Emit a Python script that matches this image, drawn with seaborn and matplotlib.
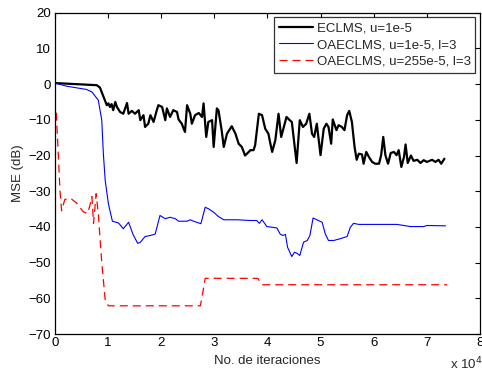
import matplotlib
matplotlib.use("Agg")
import matplotlib.pyplot as plt
import seaborn as sns
import pandas as pd

# x in units of 10^4 iterations, y in dB
x_eclms = [0, 0.79, 0.85, 0.92, 0.98, 1.01, 1.04, 1.07, 1.10, 1.14, 1.17, 1.23, 1.29, 1.36, 1.39,
           1.45, 1.51, 1.58, 1.61, 1.67, 1.70, 1.76, 1.80, 1.86, 1.92, 1.95, 2.02, 2.08, 2.11, 2.17,
           2.23, 2.30, 2.33, 2.39, 2.45, 2.49, 2.55, 2.58, 2.64, 2.71, 2.77, 2.80, 2.85, 2.89, 2.96,
           2.99, 3.05, 3.08, 3.14, 3.18, 3.24, 3.33, 3.40, 3.46, 3.52, 3.58, 3.65, 3.68, 3.74, 3.77,
           3.84, 3.90, 3.96, 4.02, 4.05, 4.09, 4.15, 4.21, 4.26, 4.31, 4.36, 4.42, 4.46, 4.50, 4.55,
           4.61, 4.67, 4.73, 4.79, 4.84, 4.88, 4.93, 5.00, 5.06, 5.11, 5.15, 5.20, 5.23, 5.30, 5.34,
           5.40, 5.45, 5.50, 5.54, 5.59, 5.64, 5.68, 5.72, 5.78, 5.81, 5.86, 5.91, 5.97, 6.03, 6.10,
           6.14, 6.18, 6.22, 6.27, 6.32, 6.38, 6.43, 6.47, 6.52, 6.57, 6.60, 6.64, 6.70, 6.75, 6.82,
           6.88, 6.94, 7.00, 7.10, 7.16, 7.22, 7.27, 7.33]
y_eclms = [0.3, -0.3, -0.95, -3.6, -5.9, -5.4, -6.4, -5.6, -7.3, -5.0, -6.4, -7.8, -8.3, -5.3, -8.3,
           -7.5, -8.3, -7.3, -10.1, -8.7, -12.0, -11.1, -8.7, -10.6, -7.3, -5.9, -6.4, -10.1, -6.8, -9.2,
           -7.3, -7.8, -9.9, -11.1, -13.4, -5.9, -8.3, -11.1, -8.7, -8.1, -9.2, -5.4, -14.8, -10.6, -10.1,
           -17.6, -6.8, -7.3, -12.9, -17.6, -13.9, -11.8, -13.9, -16.7, -17.6, -20.0, -19.0, -18.5, -18.5, -17.1,
           -8.3, -8.7, -12.5, -13.9, -16.2, -19.0, -15.7, -8.3, -14.8, -12.0, -9.2, -10.1, -10.6, -15.7, -22.1,
           -10.1, -12.0, -11.1, -8.3, -13.9, -14.8, -11.1, -19.9, -12.5, -11.1, -12.0, -16.7, -9.9, -12.9, -11.5,
           -12.0, -12.9, -8.7, -7.5, -10.6, -17.6, -21.2, -19.5, -19.7, -22.3, -19.0, -20.4, -21.8, -22.3, -22.3,
           -19.9, -14.8, -19.9, -22.3, -19.3, -19.0, -19.9, -18.5, -23.2, -20.4, -16.9, -22.1, -20.0, -21.5, -21.2,
           -22.1, -21.3, -21.8, -21.2, -21.8, -21.2, -22.3, -20.9]

x_oa1 = [0, 0.23, 0.60, 0.70, 0.82, 0.885, 0.915, 0.95, 1.01, 1.085, 1.20, 1.29, 1.39, 1.47, 1.56,
         1.61, 1.70, 1.80, 1.89, 1.98, 2.08, 2.17, 2.27, 2.33, 2.49, 2.55, 2.61, 2.67, 2.75, 2.83,
         2.89, 2.99, 3.08, 3.18, 3.43, 3.68, 3.80, 3.85, 3.90, 3.99, 4.09, 4.18, 4.24, 4.29, 4.34,
         4.38, 4.46, 4.51, 4.56, 4.61, 4.68, 4.75, 4.80, 4.86, 4.93, 5.03, 5.09, 5.15, 5.25, 5.37,
         5.50, 5.56, 5.62, 5.72, 6.44, 6.69, 6.94, 7.00, 7.35]
y_oa1 = [0.3, -0.6, -1.5, -2.2, -4.5, -10.1, -19.5, -27.0, -33.5, -38.4, -38.9, -40.5, -38.7, -42.0, -44.6,
         -44.3, -42.7, -42.4, -42.0, -36.8, -37.7, -37.3, -37.7, -38.4, -38.4, -38.0, -38.4, -38.7, -39.1, -34.5,
         -34.9, -35.9, -37.1, -38.0, -38.0, -38.2, -38.2, -39.0, -38.0, -39.9, -40.1, -40.3, -42.0, -42.4, -42.1,
         -45.7, -48.3, -47.1, -47.4, -48.0, -44.3, -43.8, -42.4, -37.5, -38.0, -38.7, -42.0, -43.8, -43.8, -43.3,
         -42.7, -40.1, -39.0, -39.3, -39.3, -39.9, -39.9, -39.6, -39.7]

x_oa2 = [0.03, 0.10, 0.13, 0.19, 0.30, 0.41, 0.54, 0.62, 0.67, 0.70, 0.73, 0.78, 0.82, 0.88, 0.95,
         1.01, 2.74, 2.79, 2.83, 3.82, 3.90, 7.38]
y_oa2 = [-8.0, -30.0, -35.5, -32.3, -32.0, -33.3, -35.8, -36.2, -33.5, -31.5, -39.0, -30.7, -36.3, -49.0, -60.6,
         -62.1, -62.1, -58.0, -54.4, -54.4, -56.2, -56.2]

labels = ["ECLMS, u=1e-5", "OAECLMS, u=1e-5, l=3", "OAECLMS, u=255e-5, l=3"]
x_ticks = [0, 1, 2, 3, 4, 5, 6, 7, 8]
y_ticks = [20, 10, 0, -10, -20, -30, -40, -50, -60, -70]

sns.set_style("white")
plt.rcParams['font.family'] = ['Liberation Sans', 'DejaVu Sans']
FS = 9.5
plt.rcParams['font.size'] = FS

fig = plt.figure(figsize=(4.82, 3.75), dpi=100)
ax = fig.add_axes([0.1135, 0.1093, 0.8824, 0.8568])

d1 = pd.DataFrame({"x": x_eclms, "y": y_eclms})
d2 = pd.DataFrame({"x": x_oa1, "y": y_oa1})
d3 = pd.DataFrame({"x": x_oa2, "y": y_oa2})

sns.lineplot(data=d1, x="x", y="y", ax=ax, color="black", linewidth=1.6, sort=False,
             estimator=None, label=labels[0])
sns.lineplot(data=d2, x="x", y="y", ax=ax, color="#0000ff", linewidth=0.8, sort=False,
             estimator=None, label=labels[1])
sns.lineplot(data=d3, x="x", y="y", ax=ax, color="#ff0000", linewidth=0.9, sort=False,
             estimator=None, label=labels[2], dashes=False)
ax.lines[2].set_dashes([6.4, 4])

ax.set_xlim(0, 8)
ax.set_ylim(-70, 20)
ax.set_xticks(x_ticks)
ax.set_yticks(y_ticks)
ax.tick_params(direction="in", length=3.5, width=0.8, top=True, right=True,
               labelsize=FS, colors="black", pad=2.5)
for s in ax.spines.values():
    s.set_visible(True)
    s.set_color("black")
    s.set_linewidth(0.9)

ax.set_xlabel("No. de iteraciones", fontsize=FS, labelpad=4)
ax.set_ylabel("MSE (dB)", fontsize=FS, labelpad=3)
fig.text(0.933, 0.006, r"x 10$^{4}$", fontsize=FS, ha="left", va="bottom")

leg = ax.legend(loc="upper right", fontsize=FS, frameon=True, fancybox=False,
                borderpad=0.35, labelspacing=0.35, handlelength=2.6, handletextpad=0.3,
                borderaxespad=0.35)
leg.get_frame().set_edgecolor("black")
leg.get_frame().set_linewidth(0.9)

fig.savefig("out.png", dpi=100)
